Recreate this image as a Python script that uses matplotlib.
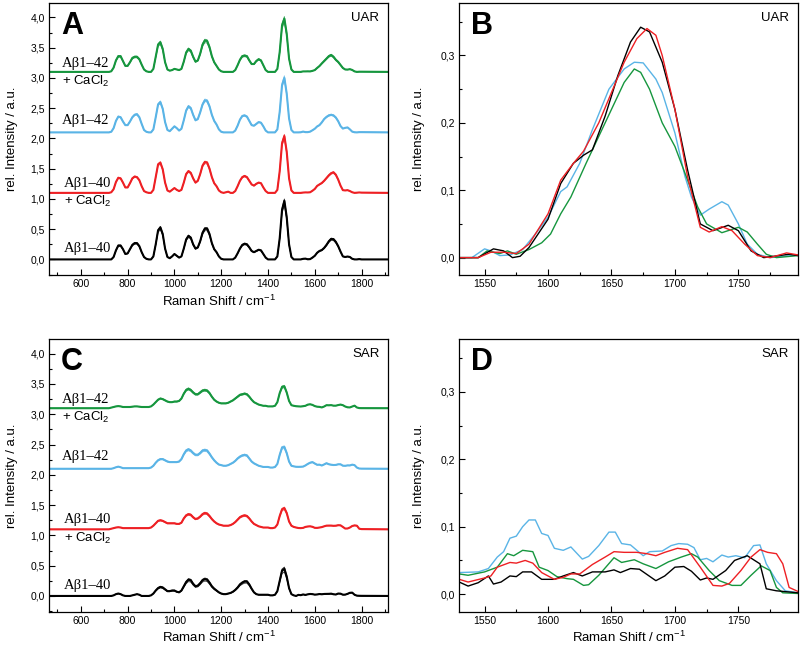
import numpy as np
import matplotlib
matplotlib.use("Agg")
import matplotlib.pyplot as plt
from matplotlib.ticker import MultipleLocator, FuncFormatter

plt.rcParams["font.family"] = ["Liberation Sans", "DejaVu Sans"]
plt.rcParams["mathtext.fontset"] = "custom"
plt.rcParams["mathtext.rm"] = "Liberation Sans"
plt.rcParams["mathtext.default"] = "regular"

# ---- data ----------------------------------------------------------------
groups = ["Aβ1–40", "Aβ1–40 + CaCl2", "Aβ1–42", "Aβ1–42 + CaCl2"]
colors = ["#000000", "#ee2024", "#5ab4e6", "#16963e"]
offsets = [0.0, 1.1, 2.1, 3.1]

# full spectra sampled every 10 cm-1 from 720 to 1800 (baseline-subtracted)
wn = np.arange(720, 1801, 10)
wn_edges = [465, 1915]

uar_black = [0.00, 0.00, 0.04, 0.15, 0.23, 0.23, 0.17, 0.09, 0.10, 0.17, 0.24, 0.27, 0.27, 0.22, 0.12, 0.04, 0.01, 0.00, 0.00,
             0.05, 0.25, 0.48, 0.53, 0.42, 0.18, 0.04, 0.02, 0.05, 0.09, 0.06, 0.03, 0.05, 0.18, 0.33, 0.39, 0.36, 0.25, 0.18,
             0.20, 0.30, 0.44, 0.51, 0.51, 0.42, 0.27, 0.17, 0.12, 0.05, 0.01, 0.00, 0.00, 0.00, 0.00, 0.00, 0.03, 0.10, 0.18,
             0.24, 0.26, 0.25, 0.20, 0.14, 0.12, 0.14, 0.16, 0.15, 0.09, 0.03, 0.00, 0.00, 0.00, 0.00, 0.05, 0.35, 0.82, 0.97,
             0.70, 0.25, 0.04, 0.00, 0.00, 0.00, 0.00, 0.01, 0.013, 0.002, 0.005, 0.03, 0.06, 0.11, 0.14, 0.155, 0.19, 0.24,
             0.30, 0.34, 0.335, 0.29, 0.22, 0.13, 0.05, 0.04, 0.048, 0.04, 0.01, 0.00, 0.00, 0.005, 0.00]
uar_red = [0.00, 0.01, 0.06, 0.18, 0.25, 0.24, 0.17, 0.09, 0.09, 0.16, 0.24, 0.27, 0.26, 0.21, 0.11, 0.03, 0.01, 0.00, 0.00,
           0.05, 0.26, 0.47, 0.50, 0.39, 0.17, 0.04, 0.02, 0.05, 0.08, 0.05, 0.03, 0.05, 0.17, 0.31, 0.36, 0.33, 0.24, 0.17,
           0.20, 0.31, 0.45, 0.51, 0.50, 0.40, 0.26, 0.16, 0.11, 0.04, 0.01, 0.00, 0.01, 0.02, 0.00, 0.00, 0.03, 0.11, 0.20,
           0.26, 0.28, 0.26, 0.20, 0.14, 0.12, 0.15, 0.17, 0.16, 0.09, 0.03, 0.00, 0.00, 0.00, 0.00, 0.05, 0.36, 0.82, 0.94,
           0.68, 0.24, 0.04, 0.00, 0.00, 0.00, 0.00, 0.005, 0.008, 0.007, 0.01, 0.035, 0.065, 0.115, 0.14, 0.163, 0.20, 0.245,
           0.29, 0.325, 0.34, 0.30, 0.22, 0.12, 0.045, 0.04, 0.045, 0.03, 0.01, 0.00, 0.003, 0.007, 0.004]
uar_blue = [0.00, 0.01, 0.07, 0.19, 0.26, 0.25, 0.18, 0.12, 0.12, 0.18, 0.25, 0.29, 0.30, 0.25, 0.14, 0.04, 0.01, 0.00, 0.00,
            0.05, 0.25, 0.46, 0.50, 0.39, 0.17, 0.04, 0.02, 0.06, 0.10, 0.07, 0.03, 0.06, 0.20, 0.36, 0.43, 0.40, 0.29, 0.20,
            0.22, 0.33, 0.46, 0.53, 0.52, 0.43, 0.29, 0.19, 0.13, 0.05, 0.01, 0.00, 0.00, 0.00, 0.00, 0.00, 0.03, 0.11, 0.21,
            0.27, 0.28, 0.26, 0.19, 0.12, 0.11, 0.14, 0.17, 0.16, 0.10, 0.03, 0.00, 0.00, 0.00, 0.00, 0.05, 0.34, 0.78, 0.90,
            0.64, 0.23, 0.04, 0.00, 0.00, 0.00, 0.002, 0.013, 0.004, 0.004, 0.012, 0.035, 0.06, 0.098, 0.12, 0.165, 0.22, 0.255,
            0.28, 0.29, 0.28, 0.245, 0.185, 0.105, 0.063, 0.075, 0.082, 0.05, 0.012, 0.002, 0.00, 0.004, 0.004]
uar_green = [0.00, 0.01, 0.07, 0.19, 0.26, 0.26, 0.18, 0.10, 0.10, 0.16, 0.23, 0.25, 0.25, 0.21, 0.12, 0.04, 0.01, 0.00, 0.00,
             0.05, 0.25, 0.45, 0.49, 0.38, 0.16, 0.04, 0.02, 0.03, 0.05, 0.04, 0.03, 0.05, 0.17, 0.32, 0.38, 0.35, 0.25, 0.17,
             0.19, 0.30, 0.45, 0.52, 0.51, 0.41, 0.26, 0.16, 0.10, 0.04, 0.01, 0.00, 0.00, 0.00, 0.00, 0.00, 0.03, 0.11, 0.20,
             0.26, 0.27, 0.26, 0.19, 0.13, 0.13, 0.18, 0.21, 0.19, 0.11, 0.03, 0.00, 0.00, 0.00, 0.00, 0.05, 0.33, 0.77, 0.88,
             0.63, 0.22, 0.04, 0.00, 0.00, 0.00, 0.00, 0.008, 0.008, 0.009, 0.008, 0.017, 0.03, 0.065, 0.097, 0.14, 0.18, 0.22,
             0.26, 0.28, 0.25, 0.20, 0.165, 0.115, 0.065, 0.04, 0.038, 0.045, 0.032, 0.008, 0.00, 0.003, 0.003]

sar_black = [0.00, 0.00, 0.01, 0.03, 0.04, 0.03, 0.01, 0.00, 0.00, 0.00, 0.01, 0.02, 0.03, 0.02, 0.00, 0.00, 0.00, 0.00, 0.01,
             0.04, 0.09, 0.13, 0.15, 0.14, 0.11, 0.08, 0.08, 0.09, 0.09, 0.07, 0.06, 0.09, 0.16, 0.23, 0.27, 0.26, 0.20, 0.16,
             0.17, 0.21, 0.26, 0.28, 0.27, 0.22, 0.16, 0.12, 0.09, 0.06, 0.04, 0.03, 0.03, 0.04, 0.05, 0.07, 0.10, 0.14, 0.19,
             0.22, 0.24, 0.24, 0.19, 0.12, 0.06, 0.03, 0.02, 0.02, 0.02, 0.02, 0.02, 0.01, 0.01, 0.02, 0.08, 0.25, 0.42, 0.45,
             0.32, 0.13, 0.03, 0.01, 0.00, 0.018, 0.013, 0.025, 0.017, 0.027, 0.033, 0.03, 0.022, 0.025, 0.032, 0.028, 0.033, 0.034,
             0.035, 0.038, 0.028, 0.024, 0.04, 0.038, 0.021, 0.022, 0.035, 0.052, 0.055, 0.02, 0.005, 0.003, 0.002]
sar_red = [0.00, 0.01, 0.02, 0.03, 0.035, 0.03, 0.02, 0.02, 0.02, 0.02, 0.02, 0.02, 0.02, 0.02, 0.02, 0.02, 0.02, 0.02, 0.03,
           0.06, 0.10, 0.14, 0.15, 0.14, 0.12, 0.10, 0.10, 0.10, 0.10, 0.09, 0.09, 0.11, 0.18, 0.23, 0.25, 0.24, 0.20, 0.17,
           0.18, 0.21, 0.25, 0.27, 0.26, 0.22, 0.17, 0.13, 0.10, 0.08, 0.07, 0.06, 0.06, 0.06, 0.07, 0.09, 0.12, 0.16, 0.20,
           0.22, 0.23, 0.22, 0.18, 0.13, 0.09, 0.07, 0.05, 0.04, 0.03, 0.03, 0.03, 0.02, 0.02, 0.03, 0.08, 0.22, 0.33, 0.35,
           0.27, 0.13, 0.06, 0.04, 0.03, 0.022, 0.02, 0.024, 0.04, 0.047, 0.05, 0.042, 0.025, 0.024, 0.03, 0.037, 0.05, 0.061,
           0.062, 0.062, 0.058, 0.06, 0.068, 0.066, 0.04, 0.013, 0.014, 0.03, 0.055, 0.065, 0.06, 0.01, 0.004]
sar_blue = [0.00, 0.00, 0.01, 0.025, 0.035, 0.025, 0.01, 0.01, 0.01, 0.01, 0.01, 0.01, 0.01, 0.01, 0.01, 0.01, 0.01, 0.01, 0.02,
            0.05, 0.10, 0.14, 0.16, 0.16, 0.14, 0.12, 0.11, 0.11, 0.11, 0.11, 0.12, 0.16, 0.24, 0.30, 0.32, 0.30, 0.26, 0.23,
            0.23, 0.26, 0.30, 0.31, 0.30, 0.25, 0.19, 0.14, 0.10, 0.07, 0.06, 0.05, 0.05, 0.06, 0.08, 0.10, 0.13, 0.17, 0.20,
            0.22, 0.23, 0.22, 0.17, 0.12, 0.09, 0.07, 0.05, 0.04, 0.03, 0.03, 0.03, 0.02, 0.02, 0.03, 0.08, 0.23, 0.35, 0.36,
            0.26, 0.12, 0.05, 0.04, 0.033, 0.032, 0.033, 0.036, 0.055, 0.08, 0.10, 0.11, 0.087, 0.066, 0.068, 0.054, 0.072, 0.092,
            0.075, 0.067, 0.062, 0.064, 0.074, 0.074, 0.051, 0.049, 0.056, 0.055, 0.068, 0.06, 0.02, 0.004, 0.002]
sar_green = [0.00, 0.01, 0.02, 0.03, 0.035, 0.03, 0.02, 0.02, 0.02, 0.02, 0.025, 0.03, 0.03, 0.025, 0.02, 0.02, 0.02, 0.02, 0.03,
             0.06, 0.10, 0.14, 0.16, 0.15, 0.13, 0.11, 0.10, 0.10, 0.11, 0.11, 0.12, 0.16, 0.24, 0.30, 0.32, 0.30, 0.26, 0.23,
             0.23, 0.26, 0.29, 0.30, 0.29, 0.25, 0.19, 0.14, 0.11, 0.09, 0.08, 0.08, 0.08, 0.09, 0.11, 0.13, 0.16, 0.19, 0.22,
             0.23, 0.24, 0.23, 0.19, 0.14, 0.10, 0.08, 0.06, 0.05, 0.04, 0.04, 0.03, 0.03, 0.03, 0.04, 0.10, 0.25, 0.35, 0.36,
             0.26, 0.12, 0.05, 0.04, 0.033, 0.03, 0.028, 0.033, 0.04, 0.059, 0.065, 0.055, 0.035, 0.025, 0.022, 0.013, 0.028, 0.05,
             0.048, 0.051, 0.042, 0.042, 0.052, 0.06, 0.05, 0.028, 0.015, 0.013, 0.028, 0.042, 0.012, 0.002, 0.001]

# spread of the single-spectrum replicates (relative peak height)
uar_reps = [[0.93, 0.97, 1.03], [0.95, 1.03], [0.96, 1.04], [0.93, 0.97, 1.04]]
sar_reps = [[0.88, 0.95, 1.06], [0.93, 1.05], [0.93, 1.05], [0.94, 1.05]]

# amide I region zoom (panels B and D), averaged spectra
b_x = {
    "black": [1530, 1545, 1557, 1565, 1572, 1578, 1585, 1600, 1610, 1620, 1628, 1635, 1645, 1655, 1665, 1673, 1680, 1690,
              1700, 1710, 1720, 1730, 1742, 1750, 1760, 1770, 1790, 1797],
    "red": [1530, 1545, 1555, 1565, 1575, 1585, 1600, 1610, 1620, 1628, 1640, 1650, 1660, 1670, 1678, 1685, 1690, 1700,
            1710, 1720, 1727, 1737, 1745, 1755, 1765, 1775, 1788, 1797],
    "blue": [1530, 1540, 1550, 1555, 1562, 1570, 1580, 1590, 1600, 1610, 1615, 1625, 1635, 1648, 1660, 1668, 1675, 1685,
             1690, 1700, 1708, 1713, 1720, 1727, 1737, 1742, 1750, 1757, 1765, 1775, 1797],
    "green": [1530, 1545, 1552, 1562, 1568, 1575, 1585, 1595, 1602, 1610, 1618, 1630, 1640, 1650, 1660, 1668, 1673, 1680,
              1690, 1700, 1710, 1718, 1725, 1737, 1750, 1757, 1765, 1772, 1780, 1797],
}
b_y = {
    "black": [0.0, 0.0, 0.013, 0.01, 0.0, 0.002, 0.015, 0.057, 0.11, 0.14, 0.152, 0.16, 0.21, 0.27, 0.32, 0.342, 0.335, 0.29,
              0.22, 0.13, 0.05, 0.04, 0.048, 0.04, 0.01, 0.0, 0.005, 0.003],
    "red": [0.0, 0.0, 0.008, 0.008, 0.006, 0.02, 0.065, 0.115, 0.14, 0.158, 0.2, 0.245, 0.29, 0.325, 0.34, 0.33, 0.3, 0.22,
            0.12, 0.045, 0.038, 0.046, 0.04, 0.02, 0.003, 0.0, 0.007, 0.004],
    "blue": [0.0, 0.0, 0.013, 0.01, 0.003, 0.004, 0.012, 0.035, 0.06, 0.098, 0.105, 0.14, 0.19, 0.25, 0.28, 0.29, 0.289, 0.265,
             0.245, 0.185, 0.12, 0.09, 0.063, 0.072, 0.083, 0.078, 0.05, 0.02, 0.005, 0.0, 0.004],
    "green": [0.0, 0.0, 0.01, 0.006, 0.01, 0.005, 0.012, 0.022, 0.035, 0.065, 0.09, 0.14, 0.18, 0.22, 0.26, 0.28, 0.275, 0.25,
              0.2, 0.165, 0.115, 0.075, 0.05, 0.037, 0.045, 0.038, 0.02, 0.005, 0.0, 0.003],
}
d_x = {
    "black": [1530, 1537, 1545, 1553, 1557, 1563, 1570, 1575, 1580, 1587, 1595, 1605, 1612, 1620, 1627, 1635, 1645, 1652,
              1657, 1665, 1672, 1685, 1692, 1700, 1707, 1713, 1720, 1725, 1730, 1740, 1747, 1757, 1767, 1772, 1780, 1797],
    "red": [1530, 1537, 1550, 1555, 1560, 1570, 1575, 1582, 1588, 1595, 1605, 1612, 1618, 1625, 1635, 1645, 1652, 1660,
            1670, 1678, 1685, 1692, 1702, 1710, 1720, 1730, 1737, 1743, 1752, 1760, 1767, 1773, 1780, 1785, 1790, 1797],
    "blue": [1530, 1545, 1553, 1560, 1565, 1570, 1575, 1580, 1585, 1590, 1595, 1600, 1605, 1612, 1618, 1627, 1632, 1640,
             1648, 1653, 1658, 1665, 1675, 1680, 1690, 1697, 1703, 1710, 1715, 1720, 1725, 1730, 1737, 1742, 1748, 1755,
             1762, 1767, 1772, 1780, 1787, 1797],
    "green": [1530, 1537, 1550, 1560, 1568, 1573, 1580, 1588, 1593, 1600, 1607, 1615, 1620, 1628, 1632, 1640, 1652, 1658,
              1668, 1675, 1685, 1695, 1705, 1713, 1718, 1727, 1735, 1745, 1752, 1760, 1768, 1775, 1780, 1785, 1797],
}
d_y = {
    "black": [0.018, 0.012, 0.017, 0.027, 0.015, 0.018, 0.027, 0.026, 0.033, 0.033, 0.022, 0.022, 0.027, 0.032, 0.027, 0.033,
              0.033, 0.036, 0.032, 0.038, 0.037, 0.02, 0.027, 0.04, 0.041, 0.034, 0.021, 0.024, 0.022, 0.035, 0.05, 0.057,
              0.045, 0.008, 0.005, 0.002],
    "red": [0.022, 0.018, 0.024, 0.027, 0.04, 0.047, 0.046, 0.05, 0.046, 0.032, 0.022, 0.025, 0.03, 0.03, 0.044, 0.055,
            0.063, 0.062, 0.062, 0.06, 0.057, 0.062, 0.068, 0.066, 0.04, 0.013, 0.012, 0.016, 0.035, 0.055, 0.066, 0.062,
            0.06, 0.045, 0.01, 0.004],
    "blue": [0.032, 0.033, 0.038, 0.055, 0.063, 0.083, 0.086, 0.1, 0.11, 0.11, 0.09, 0.087, 0.068, 0.065, 0.07, 0.052, 0.056,
             0.072, 0.092, 0.092, 0.075, 0.073, 0.057, 0.063, 0.064, 0.072, 0.075, 0.074, 0.069, 0.051, 0.053, 0.048, 0.058,
             0.055, 0.057, 0.054, 0.072, 0.073, 0.045, 0.02, 0.005, 0.002],
    "green": [0.03, 0.028, 0.033, 0.04, 0.06, 0.057, 0.065, 0.063, 0.04, 0.035, 0.026, 0.023, 0.022, 0.013, 0.014, 0.028,
              0.054, 0.047, 0.051, 0.045, 0.038, 0.048, 0.055, 0.06, 0.055, 0.035, 0.02, 0.013, 0.013, 0.028, 0.042, 0.035,
              0.01, 0.002, 0.001],
}
zoom_order = ["blue", "green", "black", "red"]
zoom_colors = {"black": colors[0], "red": colors[1], "blue": colors[2], "green": colors[3]}


def comma(v, pos):
    return f"{v:.1f}".replace(".", ",")


def style_axes(ax, xmaj, xmin, ymaj, ymin):
    ax.xaxis.set_major_locator(MultipleLocator(xmaj))
    ax.xaxis.set_minor_locator(MultipleLocator(xmin))
    ax.yaxis.set_major_locator(MultipleLocator(ymaj))
    ax.yaxis.set_minor_locator(MultipleLocator(ymin))
    ax.yaxis.set_major_formatter(FuncFormatter(comma))
    ax.tick_params(which="both", direction="in", top=False, right=False, labelsize=7.5, width=0.8, pad=3)
    ax.tick_params(which="major", length=4)
    ax.tick_params(which="minor", length=2)
    for s in ax.spines.values():
        s.set_linewidth(0.9)


def draw_stack(ax, spectra, reps, tag):
    x = np.concatenate([[wn_edges[0]], wn, [wn_edges[1]]])
    for spec, off, col, rr in zip(spectra, offsets, colors, reps):
        y = np.concatenate([[0.0], spec, [0.0]])
        for f in rr:
            ax.plot(x, off + f * y, color=col, lw=0.6, alpha=0.8)
        ax.plot(x, off + y, color=col, lw=1.5)
    ax.set_xlim(465, 1915)
    ax.set_ylim(-0.26, 4.24)
    style_axes(ax, 200, 100, 0.5, 0.25)
    ax.set_ylabel("rel. Intensity / a.u.", fontsize=9.5, labelpad=9)
    ax.text(0.973, 0.945, tag, transform=ax.transAxes, ha="right", va="center", fontsize=9.5)
    serif = ["Liberation Serif", "DejaVu Serif"]
    ax.text(520, 3.245, "Aβ1–42", fontsize=10.5, family=serif, va="center")
    ax.text(520, 2.95, "+ CaCl$_2$", fontsize=9.5, va="center")
    ax.text(520, 2.295, "Aβ1–42", fontsize=10.5, family=serif, va="center")
    ax.text(528, 1.258, "Aβ1–40", fontsize=10.5, family=serif, va="center")
    ax.text(528, 0.954, "+ CaCl$_2$", fontsize=9.5, va="center")
    ax.text(528, 0.18, "Aβ1–40", fontsize=10.5, family=serif, va="center")


def draw_zoom(ax, xs, ys, tag):
    for k in zoom_order:
        ax.plot(xs[k], ys[k], color=zoom_colors[k], lw=1.0)
    ax.set_xlim(1530, 1797)
    ax.set_ylim(-0.026, 0.378)
    style_axes(ax, 50, 25, 0.1, 0.05)
    ax.set_ylabel("rel. Intensity / a.u.", fontsize=9.5, labelpad=11)
    ax.text(0.973, 0.945, tag, transform=ax.transAxes, ha="right", va="center", fontsize=9.5)


fig = plt.figure(figsize=(8.0, 6.52), dpi=100)
axA = fig.add_axes([0.0616, 0.578, 0.424, 0.4175])
axB = fig.add_axes([0.574, 0.578, 0.4235, 0.4175])
axC = fig.add_axes([0.0616, 0.0618, 0.424, 0.418])
axD = fig.add_axes([0.574, 0.0618, 0.4235, 0.418])

draw_stack(axA, [uar_black, uar_red, uar_blue, uar_green], uar_reps, "UAR")
draw_stack(axC, [sar_black, sar_red, sar_blue, sar_green], sar_reps, "SAR")
draw_zoom(axB, b_x, b_y, "UAR")
draw_zoom(axD, d_x, d_y, "SAR")

axA.set_xlabel("Raman Shift / cm$^{-1}$", fontsize=9.5, labelpad=3)
axC.set_xlabel("Raman Shift / cm$^{-1}$", fontsize=9.5, labelpad=3)
axD.set_xlabel("Raman Shift / cm$^{-1}$", fontsize=9.5, labelpad=3)

for ax, letter in zip([axA, axB, axC, axD], "ABCD"):
    ax.text(0.035, 0.915, letter, transform=ax.transAxes, ha="left", va="center",
            fontsize=22, fontweight="bold")

fig.savefig("out.png", dpi=100)
